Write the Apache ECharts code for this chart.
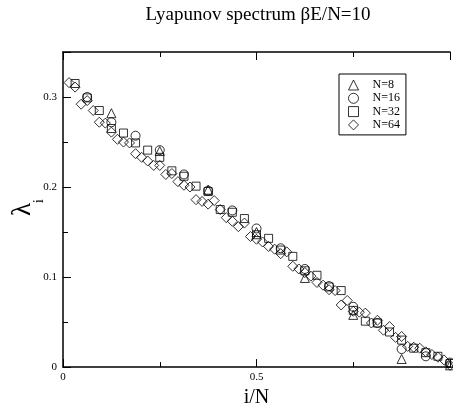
<!DOCTYPE html>
<html>
<head>
<meta charset="utf-8">
<script src="https://cdn.jsdelivr.net/npm/echarts@6/dist/echarts.min.js"></script>
<style>
html,body{margin:0;padding:0;background:#fff;}
#chart{width:453px;height:413px;}
</style>
</head>
<body>
<div id="chart"></div>
<script>
// Lyapunov exponents lambda_i, i = 1..N, plotted vs i/N
const N8 = [0.282, 0.240, 0.197, 0.150, 0.099, 0.058, 0.009, 0.002];
const N16 = [0.300, 0.272, 0.257, 0.241, 0.214, 0.196, 0.174, 0.154, 0.132, 0.109, 0.090, 0.067, 0.049, 0.020, 0.012, 0.005];
const N32 = [0.315, 0.299, 0.285, 0.265, 0.260, 0.249, 0.241, 0.233, 0.218, 0.212, 0.201, 0.195,
             0.175, 0.172, 0.165, 0.147, 0.143, 0.130, 0.123, 0.107, 0.102, 0.089, 0.085, 0.063,
             0.051, 0.049, 0.039, 0.030, 0.021, 0.016, 0.012, 0.004];
const N64 = [0.316, 0.311, 0.292, 0.296, 0.285, 0.272, 0.271, 0.261, 0.253, 0.250, 0.249, 0.237,
             0.233, 0.229, 0.224, 0.224, 0.214, 0.215, 0.206, 0.202, 0.200, 0.186, 0.184, 0.181,
             0.185, 0.175, 0.166, 0.162, 0.156, 0.160, 0.145, 0.142, 0.139, 0.134, 0.131, 0.126,
             0.128, 0.112, 0.109, 0.105, 0.101, 0.094, 0.091, 0.086, 0.085, 0.069, 0.074, 0.062,
             0.061, 0.060, 0.049, 0.052, 0.041, 0.045, 0.033, 0.034, 0.023, 0.022, 0.021, 0.017,
             0.014, 0.011, 0.008, 0.002];
const seriesNames = ['N=8', 'N=16', 'N=32', 'N=64'];
const seriesValues = [N8, N16, N32, N64];
const symbols = ['triangle', 'circle', 'rect', 'diamond'];
const symbolSizes = [9, 9, 8, 10];
const xTickLabels = ['0', '0.5'];
const yTickLabels = ['0', '0.1', '0.2', '0.3'];

const FONT = "'Liberation Serif', 'DejaVu Serif', serif";
const chart = echarts.init(document.getElementById('chart'), null, {renderer: 'canvas'});

function toPoints(vals) {
  const n = vals.length;
  return vals.map((v, i) => [(i + 1) / n, v]);
}

const axisLineStyle = {color: '#000', width: 1.5};
const markerStyle = {color: 'rgba(0,0,0,0)', borderColor: '#000', borderWidth: 1};

const option = {
  backgroundColor: '#fff',
  animation: false,
  title: {
    text: 'Lyapunov spectrum \u03b2E/N=10',
    left: 253,
    top: 1,
    textAlign: 'center',
    textStyle: {fontFamily: FONT, fontSize: 19, fontWeight: 'normal', color: '#000'}
  },
  legend: {
    left: 339,
    top: 74,
    orient: 'vertical',
    padding: [5, 6, 4, 9],
    itemWidth: 10,
    itemHeight: 10,
    itemGap: 1.3,
    borderColor: '#000',
    borderWidth: 1,
    itemStyle: {color: 'rgba(0,0,0,0)', borderColor: '#000', borderWidth: 1},
    textStyle: {fontFamily: FONT, fontSize: 12, lineHeight: 12, color: '#000', padding: [0, 0, 0, 9]},
    data: seriesNames
  },
  grid: {left: 63, top: 52, width: 392, height: 321, containLabel: false},
  xAxis: [{
    type: 'value', min: 0, max: 1, interval: 0.5, position: 'bottom',
    name: 'i/N', nameLocation: 'middle', nameGap: 13,
    nameTextStyle: {fontFamily: FONT, fontSize: 20, color: '#000'},
    axisLine: {show: true, onZero: false, lineStyle: axisLineStyle},
    axisTick: {show: true, inside: true, length: 8, lineStyle: {color: '#000', width: 1}},
    minorTick: {show: true, splitNumber: 2, length: 5, lineStyle: {color: '#000', width: 1}},
    axisLabel: {
      fontFamily: FONT, fontSize: 11, color: '#000', margin: 5,
      formatter: function (v) { const s = String(+v.toFixed(2)); return xTickLabels.indexOf(s) >= 0 ? s : ''; }
    },
    splitLine: {show: false}
  }, {
    type: 'value', min: 0, max: 1, interval: 0.5, position: 'top',
    axisLine: {show: true, onZero: false, lineStyle: axisLineStyle},
    axisTick: {show: true, inside: true, length: 8, lineStyle: {color: '#000', width: 1}},
    minorTick: {show: true, splitNumber: 2, length: 5, lineStyle: {color: '#000', width: 1}},
    axisLabel: {show: false},
    splitLine: {show: false}
  }],
  yAxis: [{
    type: 'value', min: 0, max: 0.35, interval: 0.1, position: 'left',
    axisLine: {show: true, onZero: false, lineStyle: axisLineStyle},
    axisTick: {show: true, inside: true, length: 8, lineStyle: {color: '#000', width: 1}},
    axisLabel: {
      fontFamily: FONT, fontSize: 11, color: '#000', margin: 6,
      formatter: function (v) { const s = String(+v.toFixed(2)); return yTickLabels.indexOf(s) >= 0 ? s : ''; }
    },
    splitLine: {show: false}
  }, {
    type: 'value', min: 0, max: 0.35, interval: 0.05, position: 'left', offset: 0,
    axisLine: {show: false, onZero: false},
    axisTick: {show: true, inside: true, length: 5, lineStyle: {color: '#000', width: 1}},
    axisLabel: {show: false},
    splitLine: {show: false}
  }],
  graphic: [{
    type: 'text', left: 9, top: 203, rotation: Math.PI / 2,
    style: {text: '\u03bb', font: '27px ' + FONT, fill: '#000'}
  }, {
    type: 'text', left: 32, top: 199, rotation: Math.PI / 2,
    style: {text: 'i', font: '15px ' + FONT, fill: '#000'}
  }],
  series: seriesValues.map((vals, k) => ({
    name: seriesNames[k],
    type: 'scatter',
    xAxisIndex: 0,
    yAxisIndex: 0,
    symbol: symbols[k],
    symbolSize: symbolSizes[k],
    itemStyle: markerStyle,
    emphasis: {disabled: true},
    data: toPoints(vals)
  }))
};
chart.setOption(option);
</script>
</body>
</html>
